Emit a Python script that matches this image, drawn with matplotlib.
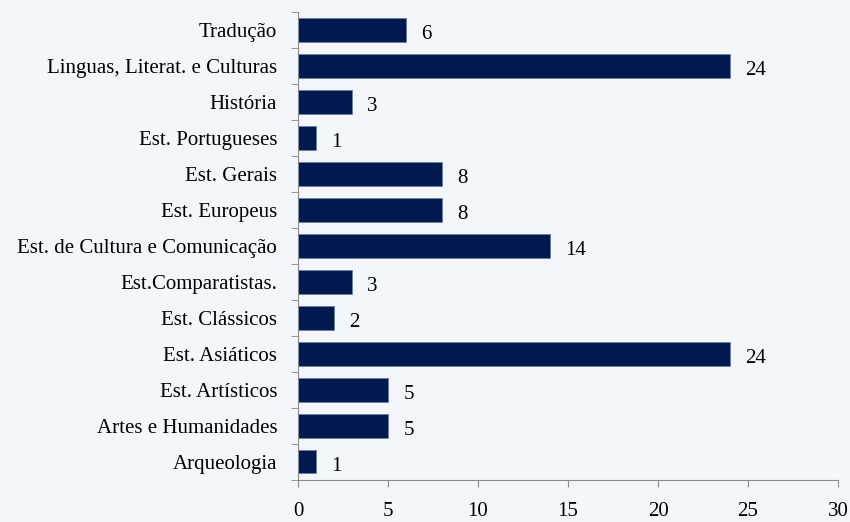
import matplotlib.pyplot as plt
import numpy as np

## data ##
categories = ["Arqueologia", "Artes e Humanidades", "Est. Artísticos", "Est. Asiáticos",
              "Est. Clássicos", "Est.Comparatistas.", "Est. de Cultura e Comunicação",
              "Est. Europeus", "Est. Gerais", "Est. Portugueses", "História",
              "Linguas, Literat. e Culturas", "Tradução"]
values = [1, 5, 5, 24, 2, 3, 14, 8, 8, 1, 3, 24, 6]
xticks = [0, 5, 10, 15, 20, 25, 30]

bg = "#f3f7fb"
barcolor = "#001a4f"
axcolor = "#8c8c8c"

plt.rcParams['font.family'] = ['Liberation Serif', 'DejaVu Serif']

fig = plt.figure(figsize=(8.5, 5.22), dpi=100, facecolor=bg)
ax = fig.add_axes([0.3506, 0.0805, 0.6353, 0.8965], facecolor=bg)

y = np.arange(len(categories))
ax.barh(y, values, height=0.64, color=barcolor, edgecolor="#6a7fa8", linewidth=0.6)

for yi, v in zip(y, values):
    ax.annotate(str(v), (v, yi), xytext=(11, -3), textcoords="offset points",
                va="center", ha="left", fontsize=15)

ax.set_xlim(0, 30)
ax.set_ylim(-0.5, len(categories) - 0.5)
ax.set_xticks(xticks)
ax.set_xticklabels([str(t) for t in xticks], fontsize=15)
ax.set_yticks(y)
ax.set_yticklabels(categories, fontsize=15)
ax.set_yticks(np.arange(len(categories) + 1) - 0.5, minor=True)

ax.tick_params(axis="y", which="major", length=0, pad=15)
ax.tick_params(axis="y", which="minor", length=5, color=axcolor, direction="out")
ax.tick_params(axis="x", length=5, color=axcolor, direction="out", pad=11)

for s in ["top", "right"]:
    ax.spines[s].set_visible(False)
for s in ["left", "bottom"]:
    ax.spines[s].set_color(axcolor)

fig.savefig("out.png", dpi=100, facecolor=bg)
